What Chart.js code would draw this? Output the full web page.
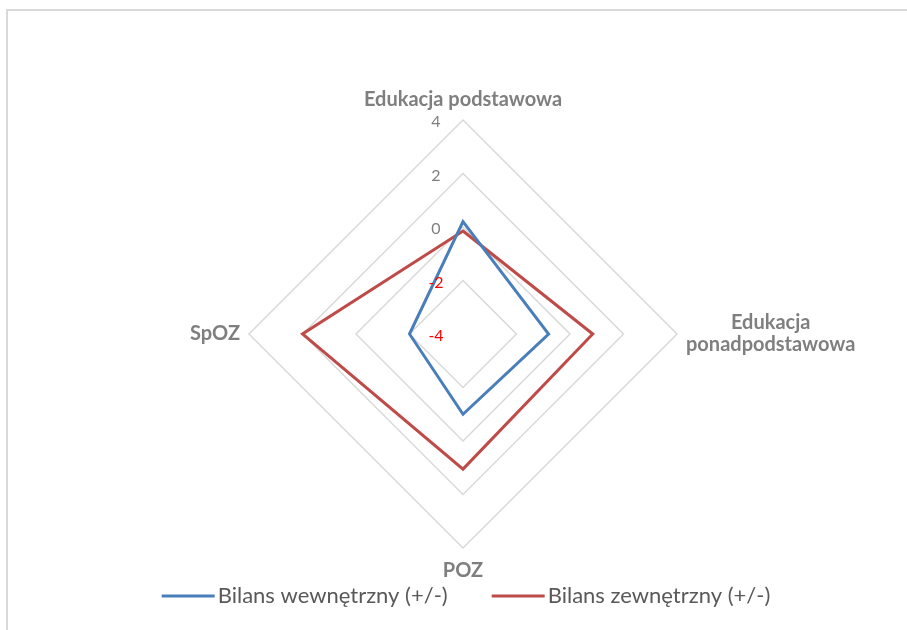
<!DOCTYPE html>
<html>
<head>
<meta charset="utf-8">
<script src="https://cdn.jsdelivr.net/npm/chart.js@4.4.1/dist/chart.umd.min.js"></script>
<style>
  html, body { margin: 0; padding: 0; background: #fff; overflow: hidden; }
  #wrap { position: relative; width: 907px; height: 630px; }
  #frame { position: absolute; left: 6px; top: 9px; width: 920px; height: 640px;
           border-top: 2px solid #d9d9d9; border-left: 2px solid #d9d9d9; }
  #myChart { position: absolute; left: 0; top: 0; }
</style>
</head>
<body>
<div id="wrap">
  <div id="frame"></div>
  <canvas id="myChart" width="907" height="630"></canvas>
</div>
<script>
const categories = ["Edukacja podstawowa", ["Edukacja", "ponadpodstawowa"], "POZ", "SpOZ"];
const bilansWewnetrzny = [0.2, -0.8, -1.0, -2.0];
const bilansZewnetrzny = [-0.15, 0.85, 1.05, 2.0];
const tickValues = [-4, -2, 0, 2, 4];
const seriesNames = ["Bilans wewnętrzny (+/-)", "Bilans zewnętrzny (+/-)"];

const FONT = "Lato, 'Open Sans', sans-serif";

// ticks, category names and legend are painted by hand so they sit like Excel's
const radarText = {
    id: "radarText",
    afterDraw(chart) {
        const ctx = chart.ctx;
        const r = chart.scales.r;
        ctx.save();

        ctx.font = "16px " + FONT;
        ctx.textAlign = "center";
        ctx.textBaseline = "middle";
        tickValues.forEach((v) => {
            const d = r.getDistanceFromCenterForValue(v);
            ctx.fillStyle = v < 0 ? "#ff0000" : "#7f7f7f";
            ctx.fillText(String(v), r.xCenter - 27, r.yCenter - d + 2);
        });

        ctx.font = "bold 20px " + FONT;
        ctx.fillStyle = "#7f7f7f";
        const lineH = 22;
        categories.forEach((name, i) => {
            const lines = [].concat(name);
            const p = r.getPointPosition(i, r.drawingArea + 9);
            const w = Math.max(...lines.map((l) => ctx.measureText(l).width));
            const h = lines.length * lineH;
            const cos = Math.cos(p.angle);
            const sin = Math.sin(p.angle);
            let cx = p.x;
            let cy = p.y;
            if (cos > 0.5) cx += w / 2;
            else if (cos < -0.5) cx -= w / 2;
            if (sin < -0.5) cy -= h / 2;
            else if (sin > 0.5) cy += h / 2 + 3;
            lines.forEach((l, k) => {
                ctx.fillText(l, cx, cy - h / 2 + lineH * (k + 0.5));
            });
        });

        // legend
        ctx.font = "22px " + FONT;
        ctx.textAlign = "left";
        const sample = 53;
        const gap = 3;
        const spacing = 44;
        const items = chart.data.datasets.map((ds) => ({
            text: ds.label,
            color: ds.borderColor,
            w: sample + gap + ctx.measureText(ds.label).width,
        }));
        const total = items.reduce((s, it) => s + it.w, 0) + spacing * (items.length - 1);
        let x = r.xCenter + 3 - total / 2;
        const y = 596;
        items.forEach((it) => {
            ctx.strokeStyle = it.color;
            ctx.lineWidth = 3;
            ctx.beginPath();
            ctx.moveTo(x, y);
            ctx.lineTo(x + sample, y);
            ctx.stroke();
            ctx.fillStyle = "#595959";
            ctx.fillText(it.text, x + sample + gap, y);
            x += it.w + spacing;
        });
        ctx.restore();
    },
};

const ctx = document.getElementById("myChart").getContext("2d");
const myChart = new Chart(ctx, {
    type: "radar",
    data: {
        labels: categories,
        datasets: [
            {
                label: seriesNames[0],
                data: bilansWewnetrzny,
                borderColor: "#4a7ebb",
                backgroundColor: "#4a7ebb",
                borderWidth: 3,
                pointRadius: 0,
                fill: false,
            },
            {
                label: seriesNames[1],
                data: bilansZewnetrzny,
                borderColor: "#be4b48",
                backgroundColor: "#be4b48",
                borderWidth: 3,
                pointRadius: 0,
                fill: false,
            },
        ],
    },
    options: {
        responsive: false,
        animation: false,
        plugins: {
            legend: { display: false },
            tooltip: { enabled: false },
        },
        layout: {
            padding: { top: 120, right: 0, bottom: 82, left: 19 },
        },
        scales: {
            r: {
                min: -4,
                max: 4,
                ticks: { stepSize: 2, display: false },
                angleLines: { display: false },
                pointLabels: { display: false },
                grid: { color: "#d9d9d9", lineWidth: 1.5 },
            },
        },
        elements: { line: { tension: 0 } },
    },
    plugins: [radarText],
});
</script>
</body>
</html>
